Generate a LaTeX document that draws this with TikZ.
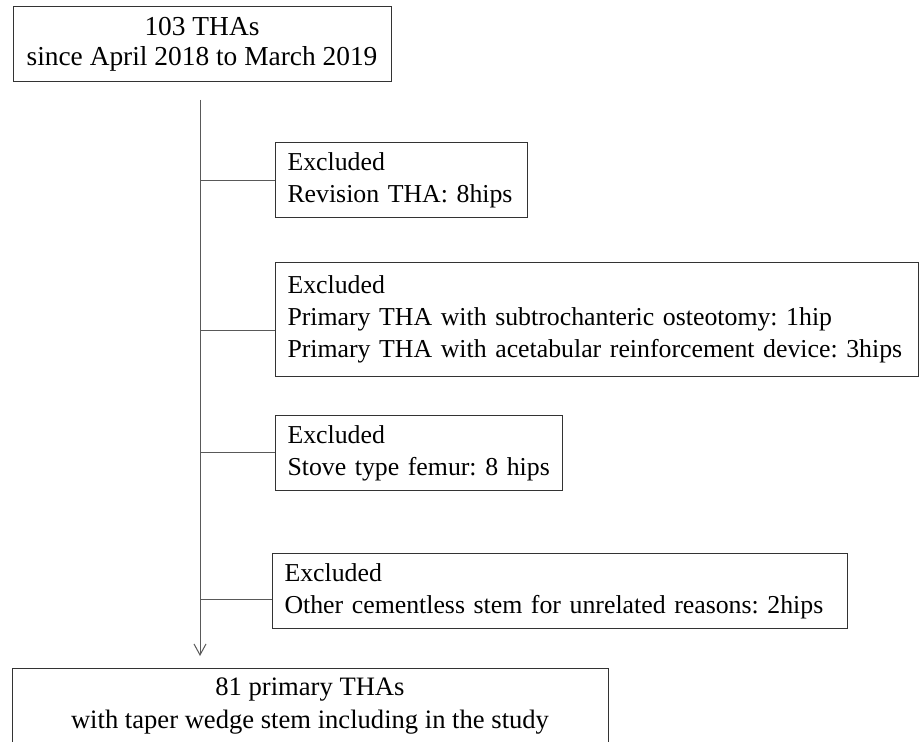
\documentclass[tikz,border=0pt]{standalone}
\usepackage{fontspec}
\setmainfont{Liberation Serif}
\usetikzlibrary{arrows.meta}
\tikzset{
    flowbox/.style={draw=black!80, line width=1pt, inner ysep=0pt,
        execute at begin node=\frenchspacing},
    mainbox/.style={flowbox, align=center, minimum height=75pt, minimum width=#1},
    exbox/.style={flowbox, anchor=north west, align=left, inner xsep=12pt,
        minimum height=75pt, text width=#1, font=\fontsize{25.8}{32}\selectfont},
    link/.style={draw=black!65, line width=1pt},
}

\begin{document}
\begin{tikzpicture}[x=1pt, y=-1pt]
    \useasboundingbox (0,0) rectangle (920,741);
    \clip (0,0) rectangle (920,741);
    % start and end of the flow
    \node[mainbox=378pt, font=\fontsize{27.4}{30}\selectfont] (total) at (202,44.5) {103 THAs\\since April 2018 to March 2019};
    \node[mainbox=596pt, anchor=north, font=\fontsize{26.6}{33}\selectfont] (study) at (310,668) {81 primary THAs\\with taper wedge stem including in the study};
    % exclusions
    \node[exbox=228pt] (ex1) at (275,142) {Excluded\\Revision THA: 8hips};
    \node[exbox=619pt, minimum height=114pt] (ex2) at (275,262) {Excluded\\Primary THA with subtrochanteric osteotomy: 1hip\\\mbox{Primary THA with acetabular reinforcement device: 3hips}};
    \node[exbox=263pt] (ex3) at (275,415) {Excluded\\Stove type femur: 8 hips};
    \node[exbox=551pt] (ex4) at (272,553) {Excluded\\Other cementless stem for unrelated reasons: 2hips};
    % trunk
    \coordinate (trunk) at (200,100);
    \coordinate (trunkend) at (200,656);
    \coordinate (tap1) at (200,180);
    \coordinate (tap2) at (200,330);
    \coordinate (tap3) at (200,452);
    \coordinate (tap4) at (200,599);
    \draw[link, -{Straight Barb[length=11pt, width=12pt]}] (trunk) -- (trunkend);
    \draw[link] (tap1) -- (tap1 -| ex1.west);
    \draw[link] (tap2) -- (tap2 -| ex2.west);
    \draw[link] (tap3) -- (tap3 -| ex3.west);
    \draw[link] (tap4) -- (tap4 -| ex4.west);
\end{tikzpicture}
\end{document}
